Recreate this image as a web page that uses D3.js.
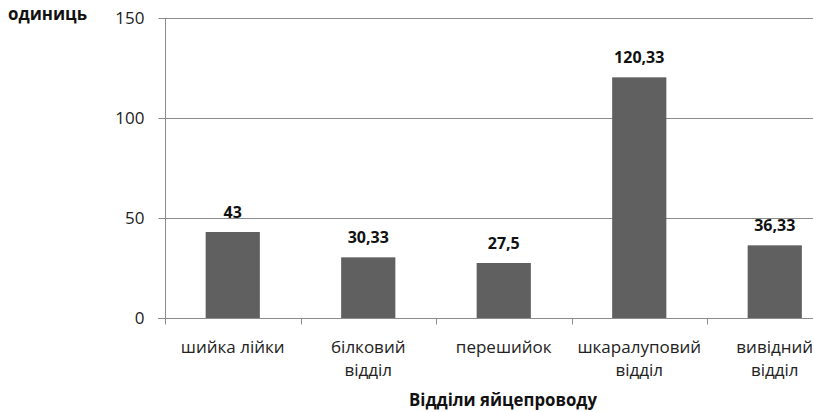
<!DOCTYPE html>
<html><head><meta charset="utf-8">
<script src="https://cdn.jsdelivr.net/npm/d3@7"></script>
<style>body{margin:0;background:#fff}svg{display:block}</style>
</head><body>
<script>
const categories = [["шийка лійки"], ["білковий", "відділ"], ["перешийок"], ["шкаралуповий", "відділ"], ["вивідний", "відділ"]];
const values = [43, 30.33, 27.5, 120.33, 36.33];
const valueLabels = ["43", "30,33", "27,5", "120,33", "36,33"];
const yTicks = [0, 50, 100, 150];
const yTitle = "одиниць";
const xTitle = "Відділи яйцепроводу";

const W = 813, H = 412;
const svg = d3.select("body").append("svg").attr("width", W).attr("height", H);
const x0 = 165, yTop = 18, yBot = 318, band = 135.5;
const x = d3.scaleBand().domain(d3.range(categories.length)).range([x0, x0 + band * categories.length]).paddingInner(0.6).paddingOuter(0.3);
const y = d3.scaleLinear().domain([0, 150]).range([yBot, yTop]);
const font = "'Open Sans', sans-serif";

// gridlines
svg.append("g").selectAll("line").data(yTicks.filter(d => d > 0)).join("line")
  .attr("x1", x0).attr("x2", W).attr("y1", d => Math.round(y(d)) + 0.5).attr("y2", d => Math.round(y(d)) + 0.5)
  .attr("stroke", "#8c8c8c").attr("stroke-width", 1);

// y axis
const yAxis = svg.append("g").attr("transform", `translate(${x0 + 0.5},0)`)
  .call(d3.axisLeft(y).tickValues(yTicks).tickSize(7).tickPadding(14).tickFormat(d3.format("d")));
yAxis.select(".domain").attr("stroke", "#8c8c8c").attr("d", `M0,${yTop}V${yBot + 5}`);
yAxis.selectAll(".tick line").attr("stroke", "#8c8c8c");
yAxis.selectAll(".tick text").attr("font-family", font).attr("font-size", 17).attr("fill", "#222");

// bars
svg.append("g").selectAll("rect").data(values).join("rect")
  .attr("x", (d, i) => x(i)).attr("width", x.bandwidth())
  .attr("y", d => y(d)).attr("height", d => y(0) - y(d))
  .attr("fill", "#606060");

// x axis
const xg = svg.append("g").attr("transform", `translate(0,${Math.round(yBot) + 0.5})`);
xg.append("line").attr("x1", x0 - 7).attr("x2", W).attr("stroke", "#8c8c8c");
xg.selectAll(".tk").data(d3.range(categories.length + 1)).join("line").attr("class", "tk")
  .attr("x1", i => Math.round(x0 + band * i) + 0.5).attr("x2", i => Math.round(x0 + band * i) + 0.5)
  .attr("y1", 0).attr("y2", 6).attr("stroke", "#8c8c8c");
const lbl = xg.selectAll(".cl").data(categories).join("text").attr("class", "cl")
  .attr("x", (d, i) => x(i) + x.bandwidth() / 2).attr("y", 34)
  .attr("text-anchor", "middle").attr("font-family", font).attr("font-size", 17).attr("fill", "#222");
lbl.selectAll("tspan").data(d => d).join("tspan")
  .attr("x", function () { return this.parentNode.getAttribute("x"); })
  .attr("dy", (d, i) => i === 0 ? 0 : 23).text(d => d);

// value labels
svg.append("g").selectAll("text").data(values).join("text")
  .attr("x", (d, i) => x(i) + x.bandwidth() / 2).attr("y", d => y(d) - 14)
  .attr("text-anchor", "middle").attr("font-family", font).attr("font-weight", "bold")
  .attr("font-size", 16).attr("fill", "#111").text((d, i) => valueLabels[i]);

// titles
svg.append("text").attr("x", 8).attr("y", 20).attr("font-family", font).attr("font-weight", "bold")
  .attr("font-size", 17).attr("textLength", 79).attr("lengthAdjust", "spacingAndGlyphs")
  .attr("fill", "#111").text(yTitle);
svg.append("text").attr("x", 409).attr("y", 406).attr("font-family", font)
  .attr("font-weight", "bold").attr("font-size", 17).attr("textLength", 188).attr("lengthAdjust", "spacingAndGlyphs")
  .attr("fill", "#111").text(xTitle);
</script>
</body></html>
